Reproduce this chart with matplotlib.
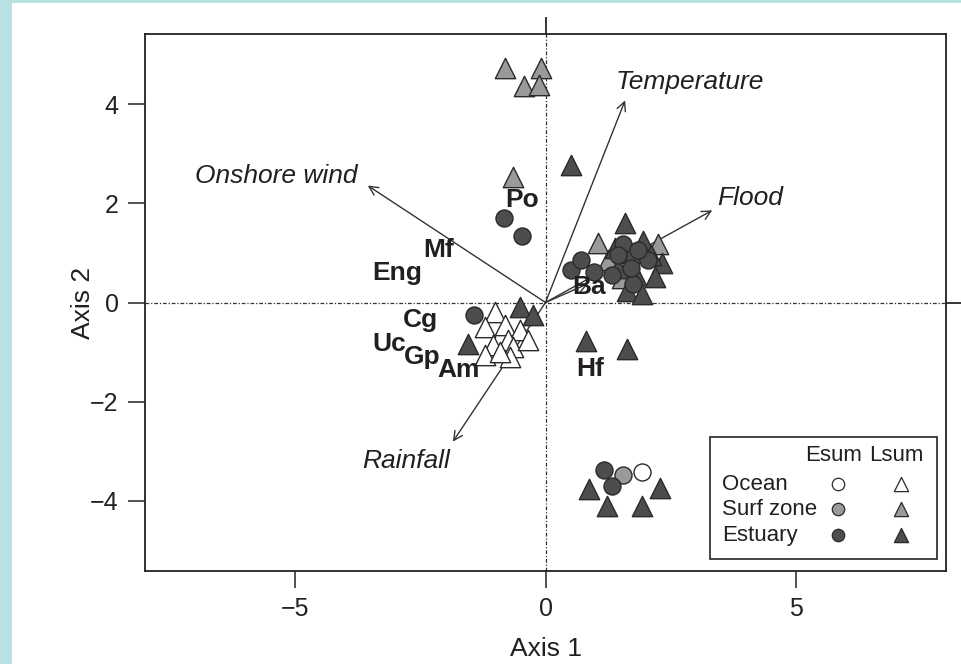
import matplotlib.pyplot as plt
from matplotlib.patches import Rectangle

plt.rcParams['font.family'] = ['Liberation Sans', 'DejaVu Sans']

# Sample scores (Axis 1, Axis 2)
ocean_esum_x = [1.93]
ocean_esum_y = [-3.43]
surf_esum_x = [1.55]
surf_esum_y = [-3.49]
estuary_esum_x = [-0.82, -0.46, -1.43, 0.50, 0.70, 0.96, 1.33, 1.55, 1.75, 2.05, 1.85, 1.45, 1.70, 1.16, 1.33]
estuary_esum_y = [1.70, 1.35, -0.26, 0.65, 0.85, 0.61, 0.55, 1.19, 0.38, 0.85, 1.05, 0.95, 0.70, -3.39, -3.70]

ocean_lsum_x = [-1.00, -1.20, -0.80, -0.50, -0.75, -1.05, -0.65, -1.20, -0.70, -0.90, -0.35]
ocean_lsum_y = [-0.20, -0.50, -0.45, -0.55, -0.75, -0.85, -0.90, -1.05, -1.10, -1.00, -0.75]
surf_lsum_x = [-0.80, -0.08, -0.42, -0.12, -0.64, 1.04, 2.25, 1.24, 1.53]
surf_lsum_y = [4.73, 4.73, 4.38, 4.40, 2.53, 1.21, 1.19, 0.85, 0.50]
estuary_lsum_x = [0.50, -0.50, -0.24, -1.55, 0.80, 1.63, 0.86, 1.23, 1.93, 2.29,
                  1.59, 1.95, 1.39, 2.33, 2.19, 1.63, 1.93, 1.80, 1.45, 2.10, 1.70]
estuary_lsum_y = [2.77, -0.10, -0.26, -0.83, -0.77, -0.93, -3.76, -4.10, -4.10, -3.74,
                  1.60, 1.25, 1.11, 0.79, 0.51, 0.24, 0.18, 0.55, 0.70, 0.95, 1.00]

# Environmental vectors
env_names = ['Temperature', 'Onshore wind', 'Flood', 'Rainfall', '']
env_x = [1.59, -3.55, 3.33, -1.85, 0.85]
env_y = [4.08, 2.36, 1.86, -2.81, 0.38]
env_label_x = [2.89, -5.38, 4.08, -2.79]
env_label_y = [4.45, 2.55, 2.10, -3.19]

# Species labels
species = ['Po', 'Mf', 'Eng', 'Cg', 'Uc', 'Gp', 'Am', 'Ba', 'Hf']
species_x = [-0.46, -2.13, -2.97, -2.49, -3.13, -2.47, -1.73, 0.88, 0.90]
species_y = [2.06, 1.05, 0.59, -0.36, -0.83, -1.11, -1.37, 0.32, -1.35]

white = 'white'
grey = '#9a9a9a'
dark = '#4d4d4d'
edge = '#2a2a2a'
txt = '#231f20'

fig = plt.figure(figsize=(9.61, 6.64), dpi=100)
fig.patches.append(Rectangle((0, 0), 12 / 961, 1, transform=fig.transFigure,
                             facecolor='#b9e0e3', edgecolor='none', zorder=0))
fig.patches.append(Rectangle((0, 1 - 3 / 664), 1, 3 / 664, transform=fig.transFigure,
                             facecolor='#b9e0e3', edgecolor='none', zorder=0))

ax = fig.add_axes([145 / 961, 1 - 571 / 664, 801 / 961, 537 / 664])
ax.set_xlim(-8, 8)
ax.set_ylim(-5.42, 5.42)

ls = (0, (3, 1.5, 1, 1.5))
ax.axhline(0, color='#333333', lw=0.9, ls=ls, zorder=1)
ax.axvline(0, color='#333333', lw=0.9, ls=ls, zorder=1)

tri = dict(marker='^', s=215, edgecolors=edge, linewidths=1.0, zorder=3)
circ = dict(marker='o', s=150, edgecolors=edge, linewidths=1.0, zorder=4)
ax.scatter(ocean_lsum_x, ocean_lsum_y, c=white, **tri)
ax.scatter(surf_lsum_x, surf_lsum_y, c=grey, **tri)
ax.scatter(estuary_lsum_x, estuary_lsum_y, c=dark, **tri)
ax.scatter(ocean_esum_x, ocean_esum_y, c=white, **circ)
ax.scatter(surf_esum_x, surf_esum_y, c=grey, **circ)
ax.scatter(estuary_esum_x, estuary_esum_y, c=dark, **circ)

for i in range(len(env_x)):
    ax.annotate('', xy=(env_x[i], env_y[i]), xytext=(0, 0),
                arrowprops=dict(arrowstyle='->', lw=1.0, color='#333333',
                                mutation_scale=16, shrinkA=0, shrinkB=0), zorder=2)
for i in range(len(env_label_x)):
    ax.text(env_label_x[i], env_label_y[i], env_names[i], style='italic',
            fontsize=19, color=txt, ha='center', va='center', zorder=5)

for name, sx, sy in zip(species, species_x, species_y):
    ax.text(sx, sy, name, fontweight='bold', fontsize=19, color=txt,
            ha='center', va='center', zorder=5)

# Axes styling
for sp in ax.spines.values():
    sp.set_linewidth(1.3)
    sp.set_color('#222222')
ax.set_xticks([-5, 0, 5])
ax.set_xticklabels(['\u22125', '0', '5'])
ax.set_yticks([-4, -2, 0, 2, 4])
ax.set_yticklabels(['\u22124', '\u22122', '0', '2', '4'])
ax.tick_params(length=12, width=1.1, pad=7, labelsize=18, colors='#222222')
ax.set_xlabel('Axis 1', fontsize=19, color=txt)
ax.set_ylabel('Axis 2', fontsize=19, color=txt)
ax.xaxis.set_label_coords(0.5, -0.122)
ax.yaxis.set_label_coords(-0.062, 0.5)

top = ax.secondary_xaxis('top')
top.set_xticks([0])
top.set_xticklabels([''])
top.tick_params(length=12, width=1.1)
top.spines['top'].set_visible(False)
right = ax.secondary_yaxis('right')
right.set_yticks([0])
right.set_yticklabels([''])
right.tick_params(length=12, width=1.1)
right.spines['right'].set_visible(False)

# Legend drawn by hand (two symbol columns)
ax.add_patch(Rectangle((0.705, 0.022), 0.284, 0.228, transform=ax.transAxes,
                       facecolor='white', edgecolor='#222222', lw=1.2, zorder=6))
leg_rows = ['Ocean', 'Surf zone', 'Estuary']
leg_fill = [white, grey, dark]
leg_y = [0.162, 0.115, 0.067]
ax.text(0.860, 0.216, 'Esum', fontsize=16, color=txt, ha='center', va='center',
        transform=ax.transAxes, zorder=7)
ax.text(0.938, 0.216, 'Lsum', fontsize=16, color=txt, ha='center', va='center',
        transform=ax.transAxes, zorder=7)
for name, fc, yy in zip(leg_rows, leg_fill, leg_y):
    ax.text(0.720, yy, name, fontsize=16, color=txt, ha='left', va='center',
            transform=ax.transAxes, zorder=7)
    ax.scatter([0.865], [yy], marker='o', s=80, c=fc, edgecolors=edge, linewidths=0.9,
               transform=ax.transAxes, zorder=7, clip_on=False)
    ax.scatter([0.944], [yy], marker='^', s=105, c=fc, edgecolors=edge, linewidths=0.9,
               transform=ax.transAxes, zorder=7, clip_on=False)

fig.savefig('out.png', dpi=100, facecolor='white')
